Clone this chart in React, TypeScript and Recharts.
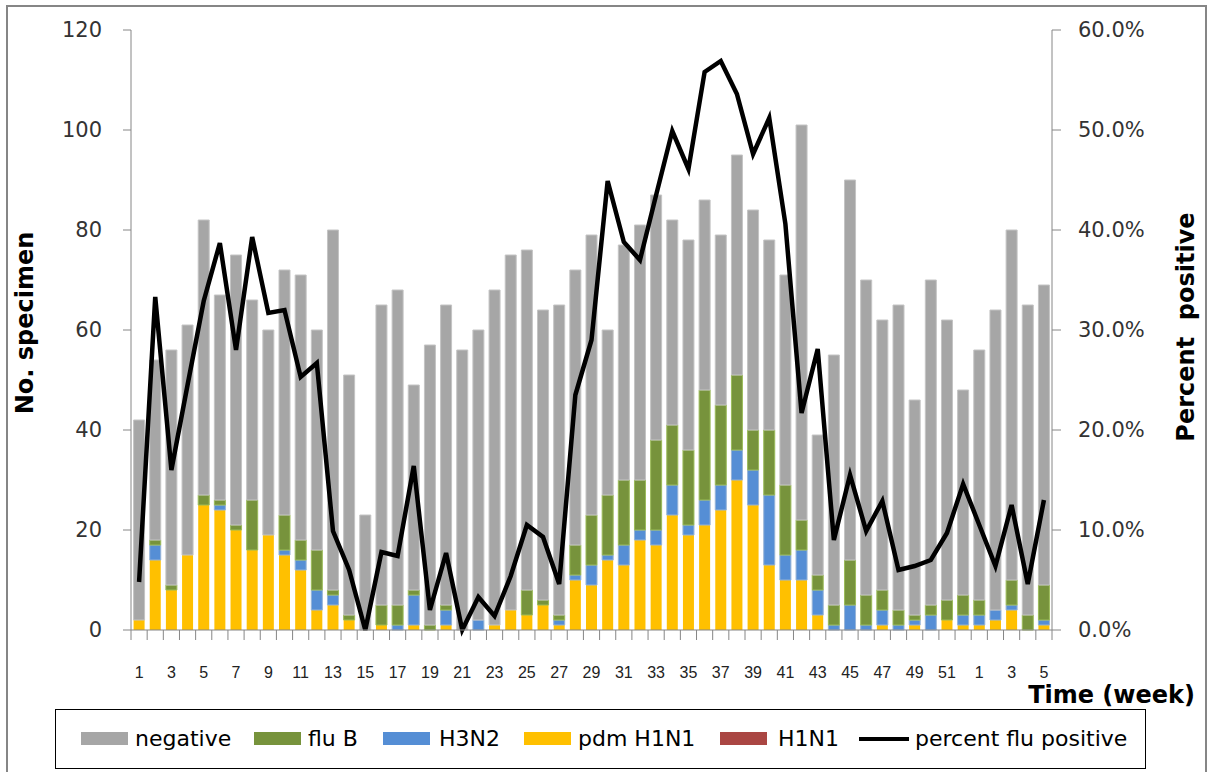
import { Bar, ComposedChart, Line, XAxis, YAxis } from "recharts";

// semanas (1-52 e depois 1-5 do ano seguinte)
const WEEKS = [
  1, 2, 3, 4, 5, 6, 7, 8, 9, 10, 11, 12, 13, 14, 15, 16, 17, 18, 19, 20, 21, 22, 23, 24, 25, 26,
  27, 28, 29, 30, 31, 32, 33, 34, 35, 36, 37, 38, 39, 40, 41, 42, 43, 44, 45, 46, 47, 48, 49, 50,
  51, 52, 1, 2, 3, 4, 5,
];

const PDM_H1N1 = [
  2, 14, 8, 15, 25, 24, 20, 16, 19, 15, 12, 4, 5, 2, 0, 1, 0, 1, 0, 1, 0, 0, 1, 4, 3, 5, 1, 10, 9,
  14, 13, 18, 17, 23, 19, 21, 24, 30, 25, 13, 10, 10, 3, 0, 0, 0, 1, 0, 1, 0, 2, 1, 1, 2, 4, 0, 1,
];
const H3N2 = [
  0, 3, 0, 0, 0, 1, 0, 0, 0, 1, 2, 4, 2, 0, 0, 0, 1, 6, 0, 3, 0, 2, 0, 0, 0, 0, 1, 1, 4, 1, 4, 2,
  3, 6, 2, 5, 5, 6, 7, 14, 5, 6, 5, 1, 5, 1, 3, 1, 1, 3, 0, 2, 2, 2, 1, 0, 1,
];
const FLU_B = [
  0, 1, 1, 0, 2, 1, 1, 10, 0, 7, 4, 8, 1, 1, 0, 4, 4, 1, 1, 1, 0, 0, 0, 0, 5, 1, 1, 6, 10, 12, 13,
  10, 18, 12, 15, 22, 16, 15, 8, 13, 14, 6, 3, 4, 9, 6, 4, 3, 1, 2, 4, 4, 3, 0, 5, 3, 7,
];
const H1N1 = WEEKS.map(() => 0);
const NEGATIVE = [
  40, 36, 47, 46, 55, 41, 54, 40, 41, 49, 53, 44, 72, 48, 23, 60, 63, 41, 56, 60, 56, 58, 67, 71,
  68, 58, 62, 55, 56, 33, 47, 51, 49, 41, 42, 38, 34, 44, 44, 38, 42, 79, 28, 50, 76, 63, 54, 61,
  43, 65, 56, 41, 50, 60, 70, 62, 60,
];
const PCT_POSITIVE = [
  4.8, 33.3, 16.0, 24.5, 32.9, 38.7, 28.0, 39.3, 31.7, 32.0, 25.3, 26.7, 9.9, 6.0, 0, 7.8, 7.4,
  16.4, 2.0, 7.7, 0, 3.3, 1.4, 5.4, 10.5, 9.3, 4.6, 23.5, 29.0, 44.9, 38.8, 37.0, 43.5, 49.9, 46.1,
  55.8, 56.9, 53.6, 47.6, 51.2, 40.6, 21.7, 28.1, 9.0, 15.5, 9.9, 12.9, 6.0, 6.4, 7.0, 9.7, 14.6,
  10.5, 6.4, 12.5, 4.6, 13.0,
];

const LEFT_TICKS = [0, 20, 40, 60, 80, 100, 120];
const RIGHT_TICKS = [0, 10, 20, 30, 40, 50, 60];

const data = WEEKS.map((w, i) => ({
  id: i,
  week: w,
  h1n1: H1N1[i],
  pdm: PDM_H1N1[i],
  h3n2: H3N2[i],
  fluB: FLU_B[i],
  negative: NEGATIVE[i],
  pct: PCT_POSITIVE[i],
}));

const W = 1208;
const H = 772;
const PLOT_LEFT = 131;
const PLOT_RIGHT = 1052;
const BAND = (PLOT_RIGHT - PLOT_LEFT) / WEEKS.length;
const AXIS = "#868686";
const FONT = "'DejaVu Sans', sans-serif";

// tick do eixo X: marca nas fronteiras das categorias, rótulo nas semanas ímpares
const XTick = (props: any) => {
  const { x, y, index } = props;
  const half = BAND / 2;
  return (
    <g>
      <line x1={x - half} x2={x - half} y1={y} y2={y + 10} stroke={AXIS} />
      {index === WEEKS.length - 1 && (
        <line x1={x + half} x2={x + half} y1={y} y2={y + 10} stroke={AXIS} />
      )}
      {index % 2 === 0 && (
        <text
          x={x}
          y={y + 48}
          textAnchor="middle"
          fontSize={16}
          fontFamily="'Liberation Sans', Arial, sans-serif"
          fill="#222"
        >
          {WEEKS[index]}
        </text>
      )}
    </g>
  );
};

const legendItems = [
  { name: "negative", color: "#A6A6A6", sw: 81, tx: 135 },
  { name: "flu B", color: "#77933C", sw: 254, tx: 308 },
  { name: "H3N2", color: "#558ED5", sw: 383, tx: 439 },
  { name: "pdm H1N1", color: "#FFC000", sw: 524, tx: 578 },
  { name: "H1N1", color: "#AA4643", sw: 720, tx: 778 },
];

const App = () => {
  return (
    <div
      style={{
        position: "absolute",
        left: 0,
        top: 0,
        width: W,
        height: H,
        overflow: "hidden",
        background: "#fff",
        fontFamily: FONT,
      }}
    >
      {/* moldura externa */}
      <div
        style={{
          position: "absolute",
          left: 6,
          top: 5,
          width: 1201,
          height: 767,
          boxSizing: "border-box",
          borderLeft: `2px solid ${AXIS}`,
          borderTop: `2px solid ${AXIS}`,
          borderRight: `2px solid ${AXIS}`,
        }}
      />
      <div style={{ position: "absolute", left: 0, top: 0 }}>
        <ComposedChart
          width={W}
          height={H}
          data={data}
          margin={{ top: 30, right: 0, bottom: 0, left: 0 }}
          barCategoryGap="16%"
        >
          <XAxis
            dataKey="id"
            interval={0}
            height={142}
            tickLine={false}
            tickSize={0}
            tickMargin={0}
            axisLine={{ stroke: AXIS }}
            tick={<XTick />}
            label={() => (
              <text
                x={1195}
                y={703}
                textAnchor="end"
                fontFamily={FONT}
                fontWeight="bold"
                fontSize={24}
                fill="#000"
              >
                Time (week)
              </text>
            )}
          />
          <YAxis
            yAxisId="left"
            width={131}
            domain={[0, 120]}
            ticks={LEFT_TICKS}
            tickSize={8}
            tickMargin={21}
            axisLine={{ stroke: AXIS }}
            tickLine={{ stroke: AXIS }}
            tick={{ fontSize: 21, fill: "#333", fontFamily: FONT }}
            label={() => (
              <text
                x={25}
                y={323}
                transform="rotate(-90 25 323)"
                textAnchor="middle"
                dominantBaseline="central"
                fontFamily={FONT}
                fontWeight="bold"
                fontSize={24}
                fill="#000"
              >
                No. specimen
              </text>
            )}
          />
          <YAxis
            yAxisId="right"
            orientation="right"
            width={156}
            domain={[0, 60]}
            ticks={RIGHT_TICKS}
            tickSize={9}
            tickMargin={17}
            axisLine={{ stroke: AXIS }}
            tickLine={{ stroke: AXIS }}
            tickFormatter={(v: number) => v.toFixed(1) + "%"}
            tick={{ fontSize: 21, fill: "#333", fontFamily: FONT }}
            label={() => (
              <text
                x={1186}
                y={327}
                transform="rotate(-90 1186 327)"
                textAnchor="middle"
                dominantBaseline="central"
                fontFamily={FONT}
                fontWeight="bold"
                fontSize={24}
                fill="#000"
                style={{ whiteSpace: "pre" }}
              >
                {"Percent  positive"}
              </text>
            )}
          />
          <Bar yAxisId="left" dataKey="h1n1" stackId="a" fill="#AA4643" isAnimationActive={false} />
          <Bar yAxisId="left" dataKey="pdm" stackId="a" fill="#FFC000" isAnimationActive={false} />
          <Bar
            yAxisId="left"
            dataKey="h3n2"
            stackId="a"
            fill="#558ED5"
            stroke="#95B3D7"
            strokeWidth={1}
            isAnimationActive={false}
          />
          <Bar
            yAxisId="left"
            dataKey="fluB"
            stackId="a"
            fill="#77933C"
            stroke="#9BBB59"
            strokeWidth={1}
            isAnimationActive={false}
          />
          <Bar
            yAxisId="left"
            dataKey="negative"
            stackId="a"
            fill="#A6A6A6"
            stroke="#C4C4C4"
            strokeWidth={1}
            isAnimationActive={false}
          />
          <Line
            yAxisId="right"
            type="linear"
            dataKey="pct"
            stroke="#000"
            strokeWidth={4.5}
            dot={false}
            isAnimationActive={false}
          />
        </ComposedChart>
      </div>
      {/* legenda */}
      <div
        style={{
          position: "absolute",
          left: 55,
          top: 709,
          width: 1091,
          height: 60,
          boxSizing: "border-box",
          border: "1px solid #000",
        }}
      />
      {legendItems.map((it) => (
        <div key={it.name}>
          <div
            style={{
              position: "absolute",
              left: it.sw,
              top: 732,
              width: 47,
              height: 13,
              background: it.color,
            }}
          />
          <div
            style={{
              position: "absolute",
              left: it.tx,
              top: 726,
              fontSize: 22,
              lineHeight: "26px",
              color: "#000",
              whiteSpace: "nowrap",
            }}
          >
            {it.name}
          </div>
        </div>
      ))}
      <div
        style={{ position: "absolute", left: 859, top: 737, width: 50, height: 4, background: "#000" }}
      />
      <div
        style={{
          position: "absolute",
          left: 915,
          top: 726,
          fontSize: 22,
          lineHeight: "26px",
          color: "#000",
          whiteSpace: "nowrap",
        }}
      >
        percent flu positive
      </div>
    </div>
  );
};

export default App;
